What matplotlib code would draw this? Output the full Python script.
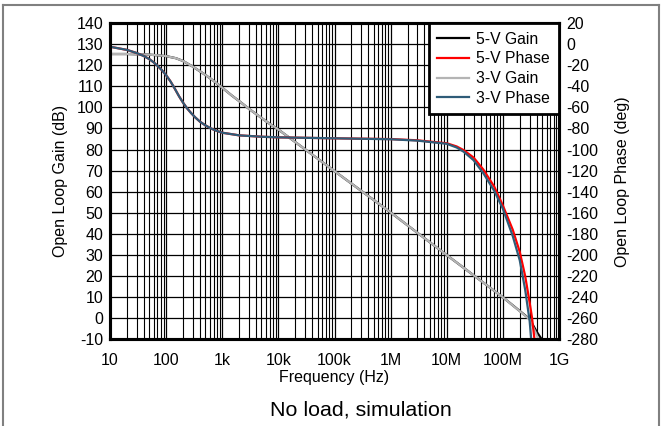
import numpy as np
import matplotlib
matplotlib.use('Agg')
import matplotlib.pyplot as plt
from matplotlib.lines import Line2D

plt.rcParams['font.family'] = ['Liberation Sans', 'DejaVu Sans']
plt.rcParams['axes.unicode_minus'] = False

# gain data (dB)
freq_gain = [10, 20, 30, 50, 70, 100, 150, 200, 300, 500, 700, 1e3, 1.5e3, 2e3, 3e3,
             5e3, 7e3, 1e4, 1e5, 1e6, 1e7, 1e8, 2e8, 3e8, 4e8]
gain_3v = [125.3, 125.3, 125.2, 125.0, 124.7, 124.3, 123.3, 122.0, 119.3, 115.4, 112.6,
           109.3, 105.5, 103.0, 99.3, 95.0, 92.2, 89.5, 69.8, 50.2, 30.0, 10.0, 3.4, -0.5, -7.8]
freq_gain_end3 = [4.3e8]
gain_3v_end = [-10]
gain_5v = [125.3, 125.3, 125.2, 125.0, 124.7, 124.3, 123.3, 122.0, 119.3, 115.4, 112.6,
           109.3, 105.5, 103.0, 99.3, 95.0, 92.2, 89.5, 69.8, 50.2, 30.0, 10.0, 3.5, -0.3, -6.3]
freq_gain_end5 = [4.95e8]
gain_5v_end = [-10]

# phase data (deg)
freq_phase = [10, 20, 30, 40, 50, 60, 70, 85, 100, 120, 140, 170, 200, 233, 280, 330, 400,
              500, 630, 800, 1e3, 2e3, 5e3, 1e4, 1e5, 1e6, 3e6, 1e7, 1.5e7, 2e7, 3e7, 4.5e7,
              7e7, 1e8, 1.5e8, 2e8, 2.5e8, 3e8]
phase_3v = [-2.5, -5.5, -8.5, -11.3, -14.2, -17.3, -20.5, -25, -29.5, -35.5, -41.5, -49.5,
            -55.5, -60.5, -65.5, -69.5, -73.5, -77, -80, -82.3, -84, -86.5, -87.8, -88.4,
            -89.3, -90.2, -91.5, -94.5, -98, -102, -110, -122.5, -139, -156, -182, -205,
            -233, -262.5]
freq_phase_end3 = [3.2e8]
phase_3v_end = [-280]
phase_5v = [-2.5, -5.5, -8.5, -11.3, -14.2, -17.3, -20.5, -25, -29.5, -35.5, -41.5, -49.5,
            -55.5, -60.5, -65.5, -69.5, -73.5, -77, -80, -82.3, -84, -86.5, -87.8, -88.4,
            -89.3, -90.0, -91.2, -94, -97, -100.5, -107.5, -119, -135, -153, -176, -197,
            -220, -245]
freq_phase_end5 = [3.3e8, 3.66e8]
phase_5v_end = [-259, -280]

xticks = [10, 100, 1e3, 1e4, 1e5, 1e6, 1e7, 1e8, 1e9]
xticklabels = ['10', '100', '1k', '10k', '100k', '1M', '10M', '100M', '1G']

c_black = '#000000'
c_red = '#ff0000'
c_gray = '#b4b4b4'
c_blue = '#2f5c78'

fig = plt.figure(figsize=(6.62, 4.26), dpi=100)
ax = fig.add_axes([0.1662, 0.2031, 0.6782, 0.7429])
ax2 = ax.twinx()

lw = 1.6
ax.plot(freq_gain + freq_gain_end5, gain_5v + gain_5v_end, color=c_black, lw=lw)
ax.plot(freq_gain + freq_gain_end3, gain_3v + gain_3v_end, color=c_gray, lw=lw)
ax2.plot(freq_phase + freq_phase_end5, phase_5v + phase_5v_end, color=c_red, lw=lw)
ax2.plot(freq_phase + freq_phase_end3, phase_3v + phase_3v_end, color=c_blue, lw=lw)

ax.set_xscale('log')
ax.set_xlim(10, 1e9)
ax.set_ylim(-10, 140)
ax.set_yticks(np.arange(-10, 141, 10))
ax2.set_ylim(-280, 20)
ax2.set_yticks(np.arange(-280, 21, 20))
ax.set_xticks(xticks)
ax.set_xticklabels(xticklabels)
ax.xaxis.set_minor_locator(matplotlib.ticker.LogLocator(base=10, subs=np.arange(2, 10), numticks=20))
ax.xaxis.set_minor_formatter(matplotlib.ticker.NullFormatter())

ax.grid(True, which='major', axis='both', color='black', lw=0.9)
ax.grid(True, which='minor', axis='x', color='black', lw=0.8)
ax.set_axisbelow(True)

for a in (ax, ax2):
    a.tick_params(which='both', length=0, labelsize=11.5)
    a.tick_params(axis='y', pad=5)
    for s in a.spines.values():
        s.set_linewidth(2.2)
        s.set_color('black')
ax.tick_params(axis='x', pad=9.5)

ax.set_xlabel('Frequency (Hz)', fontsize=11.5, labelpad=2)
ax.set_ylabel('Open Loop Gain (dB)', fontsize=11.5, labelpad=6)
ax2.set_ylabel('Open Loop Phase (deg)', fontsize=11.5, labelpad=12)

handles = [Line2D([], [], color=c_black, lw=lw), Line2D([], [], color=c_red, lw=lw),
           Line2D([], [], color=c_gray, lw=lw), Line2D([], [], color=c_blue, lw=lw)]
labels = ['5-V Gain', '5-V Phase', '3-V Gain', '3-V Phase']
leg = ax2.legend(handles, labels, loc='upper right', borderaxespad=0, fontsize=11.3,
                 fancybox=False, framealpha=1, edgecolor='black', handlelength=2.0,
                 labelspacing=0.3, handletextpad=0.5, borderpad=0.55)
leg.get_frame().set_linewidth(2)

fig.text(361 / 662, 1 - 410 / 426, 'No load, simulation', ha='center', va='center', fontsize=15.4)

# outer border
border = dict(color='#808080', lw=1.5, transform=fig.transFigure)
fig.add_artist(Line2D([3 / 662, 659 / 662], [1 - 4.5 / 426] * 2, **border))
fig.add_artist(Line2D([3 / 662] * 2, [0, 1 - 4.5 / 426], **border))
fig.add_artist(Line2D([659 / 662] * 2, [0, 1 - 4.5 / 426], **border))

fig.savefig('out.png', dpi=100)
